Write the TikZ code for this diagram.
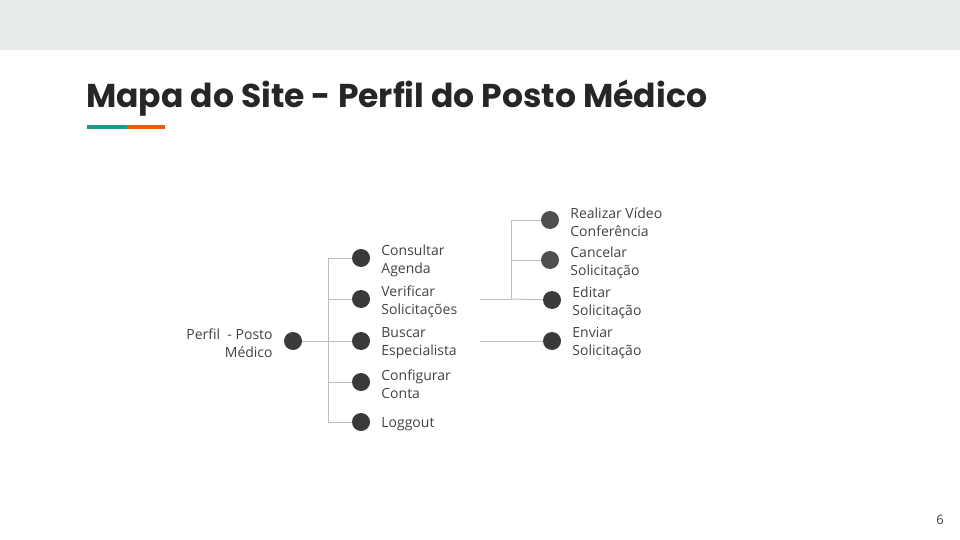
\documentclass[tikz,border=0pt]{standalone}
\usepackage{fontspec}
\setmainfont{Open Sans}
\newfontfamily\titlefont{Poppins}
\usetikzlibrary{positioning}

\definecolor{band}{HTML}{E8EBEB}
\definecolor{teal}{HTML}{1A9A86}
\definecolor{orange}{HTML}{E65B0C}
\definecolor{txt}{HTML}{424242}
\definecolor{dotA}{HTML}{3A3A3A}
\definecolor{dotB}{HTML}{4F4F4F}
\definecolor{wire}{HTML}{BDBDBD}

\tikzset{
	dot/.style={circle, fill=dotA, minimum size=18pt, inner sep=0pt},
	dotlight/.style={dot, fill=dotB},
	lbltext/.style={text=txt, font=\fontsize{14}{18}\selectfont, inner sep=0pt, yshift=-2.5pt},
	lbl/.style={lbltext, align=left, right=11pt of #1},
	wire/.style={draw=wire, line width=1pt}
}

\begin{document}
\begin{tikzpicture}[x=1pt, y=-1pt]
		% page
		\useasboundingbox (0,0) rectangle (960,540);
		\fill[band] (0,0) rectangle (960,50);
		\node[anchor=base west, inner sep=0pt, text=black!85, font=\titlefont\bfseries\fontsize{33}{40}\selectfont] (title) at (86,108) {Mapa do Site - Perfil do Posto Médico};
		\fill[teal] (87,125) rectangle (127,129);
		\fill[orange] (127,125) rectangle (165,129);
		\node[text=txt, font=\fontsize{13}{15}\selectfont] (page) at (940,520) {6};

		% root
		\node[dot] (root) at (293,341) {};
		\node[lbltext, align=right, left=11pt of root] (rootlbl) {Perfil \ - Posto\\Médico};

		% first level
		\node[dot] (agenda) at (361,258) {};
		\node[dot] (verificar) at (361,299) {};
		\node[dot] (buscar) at (361,341) {};
		\node[dot] (config) at (361,382) {};
		\node[dot] (logout) at (361,422) {};

		\node[lbl=agenda] (agendalbl) {Consultar\\Agenda};
		\node[lbl=verificar] (verificarlbl) {Verificar\\Solicitações};
		\node[lbl=buscar] (buscarlbl) {Buscar\\Especialista};
		\node[lbl=config] (configlbl) {Configurar\\Conta};
		\node[lbl=logout] (logoutlbl) {Loggout};

		\coordinate (trunk) at (328,341);
		\draw[wire] (root) -- (trunk);
		\draw[wire] (trunk |- agenda) -- (trunk |- logout);
		\draw[wire] (trunk |- agenda) -- (agenda);
		\draw[wire] (trunk |- verificar) -- (verificar);
		\draw[wire] (trunk) -- (buscar);
		\draw[wire] (trunk |- config) -- (config);
		\draw[wire] (trunk |- logout) -- (logout);

		% second level
		\node[dotlight] (video) at (550,220) {};
		\node[dotlight] (cancelar) at (550,260) {};
		\node[dot] (editar) at (552,300) {};
		\node[dot] (enviar) at (552,341) {};

		\node[lbl=video] (videolbl) {Realizar Vídeo\\Conferência};
		\node[lbl=cancelar] (cancelarlbl) {Cancelar\\Solicitação};
		\node[lbl=editar] (editarlbl) {Editar\\Solicitação};
		\node[lbl=enviar] (enviarlbl) {Enviar\\Solicitação};

		\coordinate (vstart) at (480,299);
		\coordinate (branch) at (511,299);
		\coordinate (bstart) at (480,341);
		\draw[wire] (vstart) -- (branch);
		\draw[wire] (branch |- video) -- (branch);
		\draw[wire] (branch |- video) -- (video);
		\draw[wire] (branch |- cancelar) -- (cancelar);
		\draw[wire] (branch) -- (editar);
		\draw[wire] (bstart) -- (enviar);

	\end{tikzpicture}
\end{document}
